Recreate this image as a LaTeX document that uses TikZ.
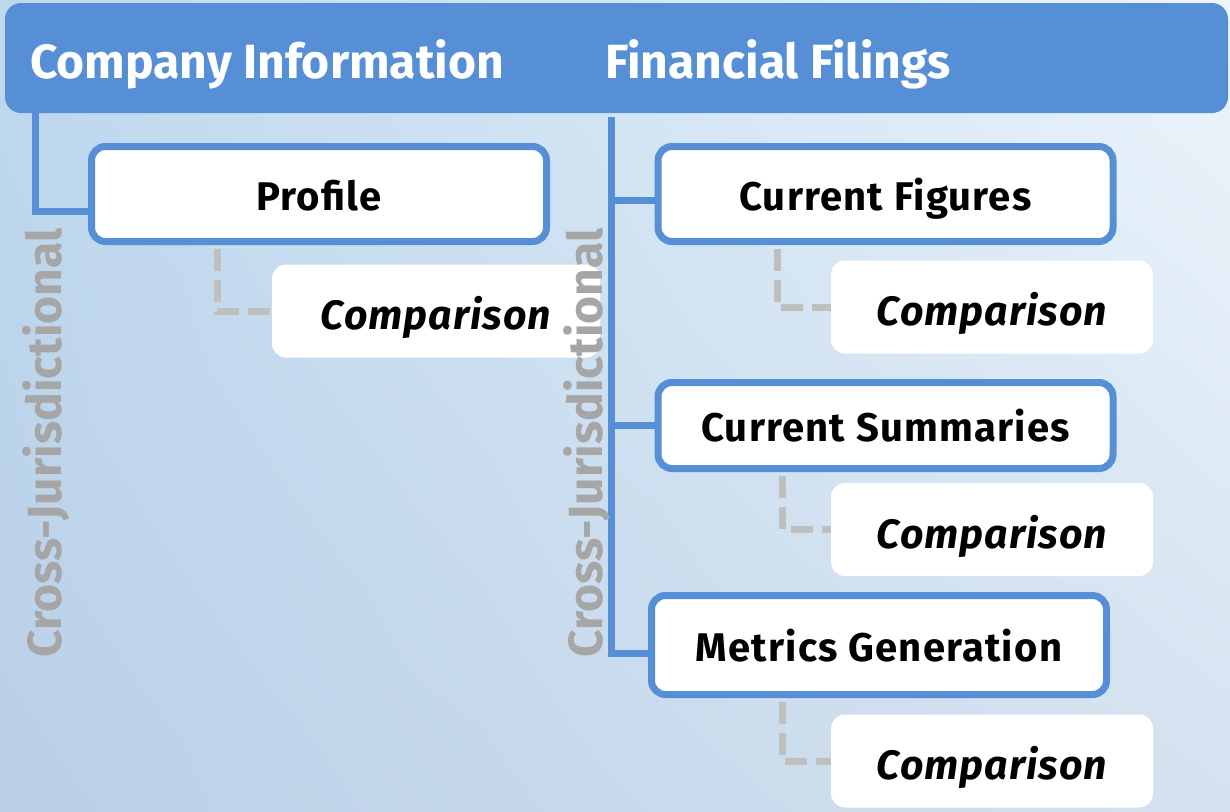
\documentclass[tikz,border=0pt]{standalone}
\usepackage{fontspec}
\setmainfont{Fira Sans}
\usetikzlibrary{positioning,shadings}
\definecolor{hdrblue}{RGB}{86,143,213}
\definecolor{dashgray}{RGB}{191,191,191}
\definecolor{crossgray}{RGB}{166,166,166}
\definecolor{bgul}{RGB}{190,216,238}
\definecolor{bgur}{RGB}{236,245,252}
\definecolor{bgll}{RGB}{186,208,231}
\definecolor{bglr}{RGB}{212,226,240}
\begin{document}
\begin{tikzpicture}[x=1pt,y=-1pt]
\tikzstyle{every node}+=[inner sep=0pt]
\tikzstyle{stage}=[draw=hdrblue, line width=7pt, fill=white, rounded corners=14pt, minimum width=455pt, minimum height=95pt, text height=40pt, text depth=8pt, font=\fontsize{40}{46}\selectfont\bfseries\addfontfeatures{LetterSpace=3}]
\tikzstyle{cmp}=[fill=white, rounded corners=14pt, minimum width=322pt, minimum height=93pt, text height=45pt, text depth=7.5pt, font=\fontsize{41}{46}\selectfont\bfseries\itshape\addfontfeatures{LetterSpace=2.5}]
\tikzstyle{trunk}=[draw=hdrblue, line width=7pt]
\tikzstyle{link}=[draw=dashgray, line width=7pt, dash pattern=on 22pt off 9pt]
\tikzstyle{cross}=[text=crossgray, rotate=90, font=\fontsize{48}{52}\selectfont\bfseries]
\useasboundingbox (0,0) rectangle (1230,811);
% background
\shade[upper left=bgul, upper right=bgur, lower left=bgll, lower right=bglr] (0,0) rectangle (1230,811);
% header
\node[fill=hdrblue, rounded corners=16pt, minimum width=1223pt, minimum height=110pt] (head) at (616.5,58) {};
\node[anchor=base west, text=white, font=\fontsize{48}{54}\selectfont\bfseries] (ci) at (30,78) {Company Information};
\node[anchor=base west, text=white, font=\fontsize{48}{54}\selectfont\bfseries] (ff) at (605,78) {Financial Filings};
% stages
\node[stage] (prof) at (319,194) {Profile};
\node[stage] (figs) at (885.5,194) {Current Figures};
\node[stage, minimum height=86pt] (summ) at (885.5,425.5) {Current Summaries};
\node[stage, minimum height=99pt] (metr) at (879,645) {Metrics Generation};
% comparisons
\node[cmp, minimum width=328pt] (pcmp) at (436,311) {Comparison};
\node[cmp] (fcmp) at (992,307) {Comparison};
\node[cmp] (scmp) at (992,529.5) {Comparison};
\node[cmp] (mcmp) at (992,761) {Comparison};
% trunks
\coordinate (cidrop) at (35,113);
\coordinate (ffdrop) at (611,117);
\draw[trunk] (cidrop) |- ([yshift=-17pt]prof.west);
\draw[trunk] (ffdrop) |- ([yshift=-8pt]metr.west);
\draw[trunk] ([yshift=-6pt]figs.west) -| (ffdrop);
\draw[trunk] (summ.west) -| (ffdrop);
% dashed links
\draw[link] ([xshift=-102pt,yshift=-3.5pt]prof.south) |- (pcmp.west);
\draw[link] ([xshift=-108pt,yshift=-3.5pt]figs.south) |- (fcmp.west);
\draw[link] ([xshift=-103pt,yshift=-3.5pt]summ.south) |- (scmp.west);
\draw[link] ([xshift=-97pt,yshift=-3.5pt]metr.south) |- (mcmp.west);
% side labels
\node[cross] (cj1) at (46,443) {Cross-Jurisdictional};
\node[cross] (cj2) at (587,443) {Cross-Jurisdictional};
\end{tikzpicture}
\end{document}
